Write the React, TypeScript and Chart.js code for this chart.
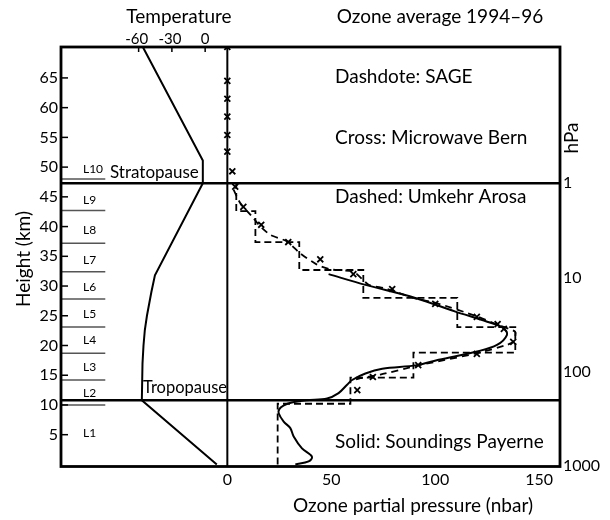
import React, { useEffect, useRef } from "react";
import { Chart, registerables } from "chart.js";
Chart.register(...registerables);

const FONT = "Lato, 'Open Sans', sans-serif";

// ---- axis ticks ----
const heightTicks = [5, 10, 15, 20, 25, 30, 35, 40, 45, 50, 55, 60, 65];
const ozoneTicks = [0, 50, 100, 150];
const temperatureTicks = [-60, -30, 0];
const pressureTicks = [1, 10, 100, 1000];

// ---- reference levels (km) ----
const stratopauseKm = 47.3;
const tropopauseKm = 10.8;

// ---- Umkehr layers ----
const layerNames = ["L1", "L2", "L3", "L4", "L5", "L6", "L7", "L8", "L9", "L10"];
const layerLabelKm = [5.3, 12.0, 16.4, 20.9, 25.3, 29.9, 34.4, 39.4, 44.5, 49.7];
const layerBoundaryKm = [10.0, 14.2, 18.7, 23.1, 27.8, 32.4, 37.2, 42.7, 48.0];

// ---- Temperature profile (°C) ----
const temperatureKm = [70.2, 51.1, 47.3, 31.8, 29.0, 25.0, 22.6, 20.0, 17.0, 10.8, 0];
const temperatureC = [-56.2, -2.1, -2.1, -45.3, -48.5, -52.5, -54.4, -55.6, -56.5, -57.1, 10.5];

// ---- Solid: Soundings Payerne (nbar) ----
const soundingKm = [32.0, 30.2, 28.0, 25.7, 24.0, 22.9, 21.8, 20.1, 19.0, 17.6, 16.7, 16.1, 15.3, 14.2, 13.4, 12.0, 11.1, 10.8, 10.4, 9.9, 9.3, 8.6, 7.2, 6.1, 4.7, 2.7, 1.3, 0.5, 0.0];
const soundingOzone = [48.7, 66.4, 90.4, 109.7, 125.0, 132.9, 134.5, 129.7, 120.1, 101.6, 91.2, 74.5, 66.4, 60.0, 57.6, 53.5, 48.0, 38.0, 31.0, 27.0, 25.0, 24.7, 27.1, 30.3, 31.9, 35.9, 40.7, 39.1, 32.7];

// ---- Dashdote: SAGE (nbar) ----
const sageKm = [46.2, 43.9, 41.7, 40.0, 38.6, 37.5, 35.5, 33.6, 32.8, 32.4, 30.2, 29.6, 28.0, 27.1, 24.9, 23.5, 22.3, 20.7, 20.1, 18.7, 16.6, 15.1, 14.5, 14.2];
const sageOzone = [3.0, 6.3, 11.9, 15.9, 20.7, 28.7, 35.0, 43.1, 49.5, 60.8, 68.0, 76.0, 89.5, 100.9, 120.1, 129.7, 138.5, 137.7, 134.5, 120.1, 91.2, 73.6, 64.0, 61.0];

// ---- Cross: Microwave Bern (nbar) ----
const microwaveKm = [70.2, 64.5, 61.5, 58.5, 55.4, 52.6, 49.3, 46.7, 43.3, 40.3, 37.4, 34.5, 32.0, 29.5, 27.0, 24.8, 23.6, 22.8, 20.6, 18.6, 16.7, 14.7, 12.5];
const microwaveOzone = [0, 0, 0, 0, 0, 0, 2.4, 3.8, 7.7, 16.3, 29.3, 44.7, 60.6, 79.3, 100, 120, 130, 133, 137.5, 120, 91.8, 70, 62.5];

// ---- Dashed: Umkehr Arosa (layer values, nbar) ----
const umkehrLayerTopKm = [10.2, 14.6, 18.8, 23.1, 28.0, 32.7, 37.4, 42.6, 47.3];
const umkehrOzone = [24.2, 59.2, 89.5, 138.5, 110.6, 65.4, 34.6, 13.5, 4.3];

const pairs = (ys: number[], xs: number[]) => ys.map((y, i) => ({ x: xs[i], y }));

function umkehrSteps() {
  const pts: { x: number; y: number }[] = [{ x: umkehrOzone[0], y: 0 }];
  for (let i = 0; i < umkehrOzone.length; i++) {
    pts.push({ x: umkehrOzone[i], y: umkehrLayerTopKm[i] });
    if (i + 1 < umkehrOzone.length) pts.push({ x: umkehrOzone[i + 1], y: umkehrLayerTopKm[i] });
  }
  return pts;
}

const fixTicks = (vals: number[]) => (s: any) => {
  s.ticks = vals.map((v) => ({ value: v }));
};

const overlay = {
  id: "overlay",
  afterDatasetsDraw(chart: any) {
    const { ctx, chartArea: a, scales } = chart;
    const X = scales.x, Y = scales.y, T = scales.t;
    ctx.save();
    ctx.strokeStyle = "#000";
    ctx.lineCap = "butt";
    ctx.lineWidth = 2.5;
    [stratopauseKm, tropopauseKm].forEach((h) => {
      const py = Y.getPixelForValue(h);
      ctx.beginPath();
      ctx.moveTo(a.left, py);
      ctx.lineTo(a.right, py);
      ctx.stroke();
    });
    ctx.lineWidth = 2;
    const x0 = X.getPixelForValue(0);
    ctx.beginPath();
    ctx.moveTo(x0, a.top);
    ctx.lineTo(x0, a.bottom);
    ctx.stroke();
    ctx.lineWidth = 1.5;
    heightTicks.forEach((v) => {
      const py = Y.getPixelForValue(v);
      ctx.beginPath();
      ctx.moveTo(a.left, py);
      ctx.lineTo(a.left + 7, py);
      ctx.stroke();
    });
    temperatureTicks.forEach((v) => {
      const px = T.getPixelForValue(v);
      ctx.beginPath();
      ctx.moveTo(px, a.top);
      ctx.lineTo(px, a.top + 5);
      ctx.stroke();
    });
    ctx.lineWidth = 2.8;
    ctx.strokeRect(a.left, a.top, a.right - a.left, a.bottom - a.top);

    ctx.fillStyle = "#000";
    ctx.textBaseline = "middle";
    const txt = (s: string, x: number, y: number, size: number, align: CanvasTextAlign = "left") => {
      ctx.font = `${size}px ${FONT}`;
      ctx.textAlign = align;
      ctx.fillText(s, x, y);
    };
    temperatureTicks.forEach((v) => txt(String(v), T.getPixelForValue(v) - (v < 0 ? 2 : 0), a.top - 8, 15, "center"));
    layerNames.forEach((n, i) => txt(n, a.left + 22, Y.getPixelForValue(layerLabelKm[i]), 12));
    txt("Stratopause", a.left + 49, Y.getPixelForValue(stratopauseKm) - 11, 17);
    txt("Tropopause", a.left + 82, Y.getPixelForValue(tropopauseKm) - 13, 16.5);
    txt("Dashdote: SAGE", a.left + 274, 77, 19);
    txt("Cross: Microwave Bern", a.left + 274, 138, 19);
    txt("Dashed: Umkehr Arosa", a.left + 274, 197, 19);
    txt("Solid: Soundings Payerne", a.left + 274, 442, 19);
    txt("Temperature", 179, 17, 19, "center");
    txt("Ozone average 1994\u201396", 440, 17, 19, "center");
    txt("Ozone partial pressure (nbar)", 413, 506, 19, "center");
    ctx.save();
    ctx.translate(24, 259);
    ctx.rotate(-Math.PI / 2);
    txt("Height (km)", 0, 0, 19, "center");
    ctx.restore();
    ctx.save();
    ctx.translate(572, 138);
    ctx.rotate(-Math.PI / 2);
    txt("hPa", 0, 0, 19, "center");
    ctx.restore();
    ctx.restore();
  },
};

export default function App() {
  const ref = useRef<HTMLCanvasElement>(null);
  useEffect(() => {
    if (!ref.current) return;
    const tickFont = { family: FONT, size: 16 };
    const noGrid = { display: false, drawTicks: false, tickLength: 0 };
    const noBorder = { display: false };
    const layerSets = layerBoundaryKm.map((h) => ({
      data: [
        { x: -80, y: h },
        { x: -58.7, y: h },
      ],
      borderColor: "#555",
      borderWidth: 1.5,
      pointRadius: 0,
      xAxisID: "x",
      yAxisID: "y",
    }));
    const chart = new Chart(ref.current, {
      type: "line",
      data: {
        datasets: [
          ...layerSets,
          {
            label: "Temperature",
            data: pairs(temperatureKm, temperatureC),
            xAxisID: "t",
            yAxisID: "y",
            borderColor: "#000",
            borderWidth: 2,
            pointRadius: 0,
            tension: 0,
          },
          {
            label: "Umkehr Arosa",
            data: umkehrSteps(),
            xAxisID: "x",
            yAxisID: "y",
            borderColor: "#000",
            borderWidth: 1.8,
            borderDash: [7, 4],
            pointRadius: 0,
            tension: 0,
          },
          {
            label: "SAGE",
            data: pairs(sageKm, sageOzone),
            xAxisID: "x",
            yAxisID: "y",
            borderColor: "#000",
            borderWidth: 1.8,
            borderDash: [7, 5],
            pointRadius: 0,
            tension: 0.2,
          },
          {
            label: "Soundings Payerne",
            data: pairs(soundingKm, soundingOzone),
            xAxisID: "x",
            yAxisID: "y",
            borderColor: "#000",
            borderWidth: 2,
            pointRadius: 0,
            tension: 0.35,
          },
          {
            label: "Microwave Bern",
            data: pairs(microwaveKm, microwaveOzone),
            xAxisID: "x",
            yAxisID: "y",
            showLine: false,
            pointStyle: "crossRot",
            pointRadius: 4.2,
            pointBorderWidth: 1.8,
            borderColor: "#000",
          },
        ] as any,
      },
      options: {
        animation: false,
        responsive: false,
        devicePixelRatio: 1,
        layout: { padding: 0 },
        plugins: { legend: { display: false }, tooltip: { enabled: false } },
        scales: {
          x: {
            type: "linear",
            position: "bottom",
            min: -80,
            max: 160,
            grid: noGrid,
            border: noBorder,
            ticks: { font: tickFont, color: "#000", padding: 4, maxRotation: 0 },
            afterBuildTicks: fixTicks(ozoneTicks),
            afterFit: (s: any) => { s.height = 53.5; },
          },
          t: {
            type: "linear",
            position: "top",
            min: -130,
            max: 320,
            grid: noGrid,
            border: noBorder,
            ticks: { display: false },
            afterBuildTicks: fixTicks(temperatureTicks),
            afterFit: (s: any) => { s.height = 47; },
          },
          y: {
            type: "linear",
            position: "left",
            min: -0.35,
            max: 70.2,
            grid: noGrid,
            border: noBorder,
            ticks: { font: tickFont, color: "#000", padding: 3 },
            afterBuildTicks: fixTicks(heightTicks),
            afterFit: (s: any) => { s.width = 61; },
          },
          p: {
            type: "logarithmic",
            position: "right",
            min: 0.0356,
            max: 1025,
            reverse: true,
            grid: noGrid,
            border: noBorder,
            ticks: { font: tickFont, color: "#000", padding: 3, callback: (v: any) => String(v) },
            afterBuildTicks: fixTicks(pressureTicks),
            afterFit: (s: any) => { s.width = 50; },
          },
        },
      } as any,
      plugins: [overlay],
    });
    return () => chart.destroy();
  }, []);
  return (
    <div style={{ position: "absolute", left: 0, top: 0, width: 610, height: 520, background: "#fff" }}>
      <canvas ref={ref} width={610} height={520} style={{ display: "block", width: 610, height: 520 }} />
    </div>
  );
}
